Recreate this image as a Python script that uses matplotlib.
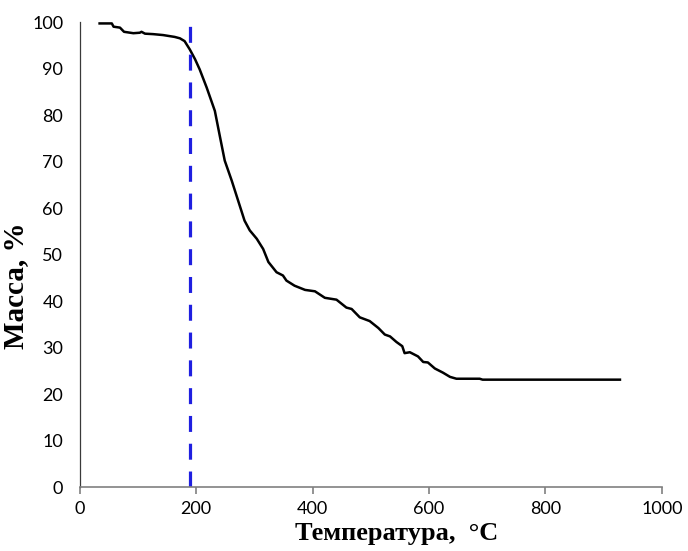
"""TGA curve: mass loss vs temperature with onset marker."""

import matplotlib

matplotlib.use("Agg")
import matplotlib.pyplot as plt


# Temperature, °C
temperature = [34, 55, 58, 69, 76, 92, 103, 106, 112, 126, 143, 163, 172, 180,
               189, 198, 206, 218, 232, 241, 249, 261, 272, 283, 292, 304, 315,
               324, 338, 349, 355, 369, 387, 404, 421, 441, 458, 467, 481, 498,
               513, 524, 533, 544, 554, 558, 567, 581, 590, 598, 610, 624, 636,
               647, 687, 692, 928]
# Mass, %
mass = [99.7, 99.7, 99.0, 98.8, 97.9, 97.6, 97.7, 97.9, 97.5, 97.4, 97.2, 96.8,
        96.5, 95.9, 94.1, 92.0, 89.8, 85.9, 80.9, 75.2, 70.2, 65.9, 61.6, 57.3,
        55.2, 53.4, 51.2, 48.4, 46.2, 45.5, 44.4, 43.3, 42.4, 42.1, 40.7, 40.3,
        38.6, 38.3, 36.5, 35.7, 34.2, 32.8, 32.4, 31.2, 30.3, 28.8, 29.0, 28.1,
        26.9, 26.8, 25.5, 24.6, 23.7, 23.3, 23.3, 23.1, 23.1]

onset_temp = 190
x_ticks = [0, 200, 400, 600, 800, 1000]
y_ticks = list(range(0, 101, 10))

AXIS_GREY = "#808080"


def main() -> None:
    fig = plt.figure(figsize=(6.88, 5.51), dpi=100)
    ax = fig.add_axes([0.116, 0.116, 0.846, 0.844])

    ax.plot(temperature, mass, color="black", linewidth=1.8, solid_joinstyle="round")
    ax.plot([onset_temp, onset_temp], [0, 100], color="#1f1fe0", linewidth=2.3,
            linestyle=(0, (5, 3.7)))

    ax.set_xlim(0, 1000)
    ax.set_ylim(0, 100)
    ax.set_xticks(x_ticks)
    ax.set_yticks(y_ticks)

    for side in ("top", "right"):
        ax.spines[side].set_visible(False)
    ax.spines["left"].set_color("#3a3a3a")
    ax.spines["bottom"].set_color(AXIS_GREY)
    ax.spines["left"].set_linewidth(0.9)
    ax.spines["bottom"].set_linewidth(1.2)
    ax.tick_params(axis="x", direction="out", length=5, width=1.2, color=AXIS_GREY,
                   labelsize=13, pad=5)
    ax.tick_params(axis="y", length=0, labelsize=13, pad=12)
    for lbl in ax.get_xticklabels() + ax.get_yticklabels():
        lbl.set_fontfamily("Lato")

    ax.set_xlabel("Температура,  °C", fontfamily="Liberation Serif", fontweight="bold",
                  fontsize=19)
    ax.set_ylabel("Масса, %", fontfamily="Liberation Serif", fontweight="bold",
                  fontsize=21)
    ax.xaxis.set_label_coords(0.545, -0.076)
    ax.yaxis.set_label_coords(-0.088, 0.434)

    fig.savefig("out.png", dpi=100)
    plt.close(fig)


if __name__ == "__main__":
    main()
